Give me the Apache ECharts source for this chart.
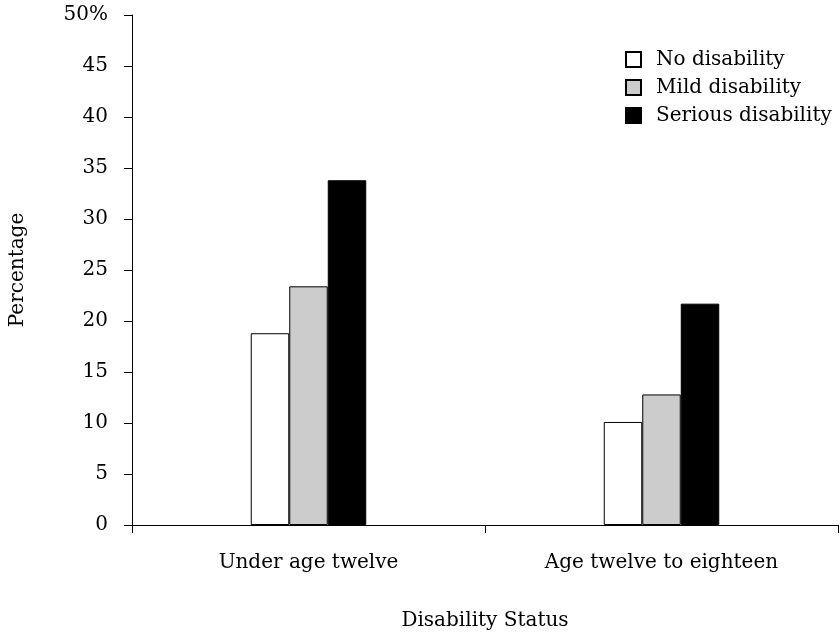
<!DOCTYPE html>
<html>
<head>
<meta charset="utf-8">
<script src="https://cdn.jsdelivr.net/npm/echarts@6/dist/echarts.min.js"></script>
<style>html,body{margin:0;padding:0;background:#fff;}#c{width:840px;height:636px;}</style>
</head>
<body>
<div id="c"></div>
<script>
var categories = ['Under age twelve', 'Age twelve to eighteen'];
var seriesNames = ['No disability', 'Mild disability', 'Serious disability'];
var noDisability = [18.8, 10.1];
var mildDisability = [23.4, 12.8];
var seriousDisability = [33.8, 21.7];
var yTicks = [0, 5, 10, 15, 20, 25, 30, 35, 40, 45, 50];
var colors = ['#ffffff', '#cccccc', '#000000'];

var FONT = 'DejaVu Serif';
var FS = 20;
var values = [noDisability, mildDisability, seriousDisability];
var chart = echarts.init(document.getElementById('c'), null, {renderer: 'canvas'});
chart.setOption({
  animation: false,
  textStyle: {fontFamily: FONT, color: '#000'},
  grid: {left: 132, right: 2, top: 15, bottom: 108, containLabel: false},
  legend: {
    orient: 'vertical', left: 625, top: 49.5, padding: 0,
    itemWidth: 15, itemHeight: 15, itemGap: 8,
    icon: 'rect',
    textStyle: {fontFamily: FONT, fontSize: FS, lineHeight: 20, color: '#000', padding: [0, 0, 0, 10]},
    data: seriesNames
  },
  xAxis: {
    type: 'category', data: categories,
    axisLine: {lineStyle: {color: '#000', width: 1}},
    axisTick: {show: true, length: 8, inside: false, alignWithLabel: false, lineStyle: {color: '#000'}},
    axisLabel: {fontFamily: FONT, fontSize: FS, color: '#000', margin: 28},
    name: 'Disability Status', nameLocation: 'middle', nameGap: 86,
    nameTextStyle: {fontFamily: FONT, fontSize: FS, color: '#000'}
  },
  yAxis: {
    type: 'value', min: yTicks[0], max: yTicks[yTicks.length - 1], interval: 5,
    axisLine: {show: true, lineStyle: {color: '#000', width: 1}},
    axisTick: {show: true, length: 8, lineStyle: {color: '#000'}},
    splitLine: {show: false},
    axisLabel: {fontFamily: FONT, fontSize: FS, color: '#000', margin: 24, padding: [5, 0, 0, 0],
      formatter: function (v) { return v === 50 ? v + '%' : String(v); }},
    name: 'Percentage', nameLocation: 'middle', nameGap: 104, nameRotate: 90,
    nameTextStyle: {fontFamily: FONT, fontSize: FS, color: '#000'}
  },
  series: seriesNames.map(function (n, i) {
    return {
      name: n, type: 'bar', data: values[i],
      barWidth: 38.5, barGap: '0%',
      itemStyle: {color: colors[i], borderColor: '#000', borderWidth: 1}
    };
  })
});
</script>
</body>
</html>
